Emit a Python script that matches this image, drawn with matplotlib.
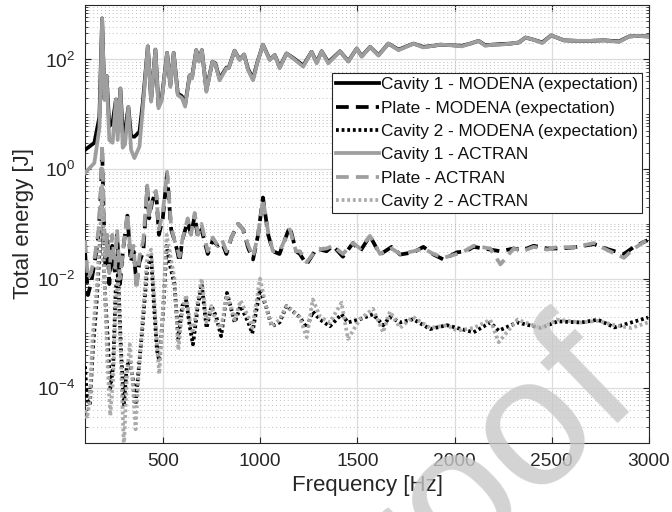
import numpy as np
import matplotlib
matplotlib.use("Agg")
import matplotlib.pyplot as plt
from matplotlib.ticker import LogLocator, FixedLocator, NullFormatter, LogFormatterMathtext

plt.rcParams['font.family'] = ['Liberation Sans', 'DejaVu Sans']
plt.rcParams['mathtext.default'] = 'regular'

# ---------------- data (log10 of total energy in J) ----------------
cav1_freq = [100, 148, 174, 188, 200, 211, 225, 242, 259, 268, 282, 294, 306, 323, 337, 354, 380,
             397, 423, 440, 462, 478, 495, 522, 539, 556, 577, 598, 615, 638, 650, 672, 686, 701,
             724, 755, 770, 792, 827, 839, 869, 895, 918, 938, 964, 987, 1015, 1050, 1076, 1101,
             1136, 1170, 1222, 1265, 1291, 1317, 1351, 1411, 1454, 1497, 1523, 1566, 1609, 1660,
             1712, 1789, 1840, 1892, 1926, 1987, 2038, 2081, 2124, 2158, 2193, 2236, 2287, 2330,
             2365, 2408, 2451, 2497, 2562, 2631, 2700, 2768, 2846, 2897, 2940, 3000]
cav1_actran_log = [-0.07, 0.11, 0.75, 2.75, 1.26, 1.70, 0.53, 0.48, 1.27, 0.53, 1.47, 0.39, 0.45,
                   1.13, 0.35, 0.20, 0.41, 1.10, 2.24, 1.23, 2.18, 1.11, 1.26, 2.12, 1.50, 2.12,
                   1.35, 1.30, 1.14, 1.71, 1.65, 2.17, 1.96, 2.17, 1.41, 1.96, 1.92, 1.62, 1.84,
                   1.84, 2.16, 1.99, 2.09, 1.81, 1.62, 1.95, 2.27, 1.99, 2.08, 1.84, 2.11, 2.02,
                   1.87, 2.14, 1.93, 2.15, 1.93, 2.15, 1.96, 2.20, 2.05, 2.23, 2.07, 2.29, 2.17,
                   2.29, 2.22, 2.25, 2.27, 2.26, 2.24, 2.29, 2.34, 2.25, 2.27, 2.27, 2.29, 2.31,
                   2.40, 2.36, 2.30, 2.44, 2.35, 2.34, 2.34, 2.35, 2.32, 2.42, 2.43, 2.42]
cav1_modena_log = [0.35, 0.48, 0.95, 2.75, 1.28, 1.70, 0.78, 0.85, 1.27, 0.75, 1.47, 0.66, 0.70,
                   1.13, 0.60, 0.59, 0.68, 1.20, 2.24, 1.26, 2.18, 1.15, 1.30, 2.12, 1.53, 2.12,
                   1.38, 1.33, 1.18, 1.71, 1.67, 2.17, 1.98, 2.17, 1.44, 1.96, 1.93, 1.65, 1.85,
                   1.85, 2.16, 2.00, 2.09, 1.83, 1.65, 1.96, 2.27, 2.00, 2.08, 1.86, 2.11, 2.03,
                   1.89, 2.14, 1.95, 2.15, 1.95, 2.15, 1.97, 2.20, 2.06, 2.23, 2.08, 2.29, 2.18,
                   2.29, 2.23, 2.25, 2.27, 2.26, 2.25, 2.29, 2.34, 2.26, 2.27, 2.28, 2.29, 2.31,
                   2.40, 2.36, 2.31, 2.44, 2.35, 2.34, 2.34, 2.35, 2.33, 2.42, 2.43, 2.42]

plate_freq = [100, 115, 130, 150, 170, 183, 188, 195, 205, 215, 225, 240, 255, 265, 280, 295, 318,
              335, 350, 365, 380, 400, 420, 430, 445, 465, 480, 500, 522, 543, 560, 575, 586, 600,
              628, 645, 664, 681, 699, 731, 757, 783, 805, 827, 853, 887, 913, 940, 964, 990,
              1015, 1042, 1066, 1100, 1153, 1185, 1205, 1239, 1291, 1342, 1375, 1426, 1478, 1515,
              1565, 1617, 1677, 1720, 1789, 1840, 1892, 1943, 2012, 2060, 2098, 2184, 2236, 2304,
              2350, 2407, 2476, 2528, 2614, 2717, 2786, 2871, 2923, 2992]
plate_actran_log = [-1.3, -2.0, -1.9, -1.6, -1.1, -0.3, 0.45, -0.6, -1.6, -1.2, -1.9, -1.2, -1.8,
                    -1.1, -2.0, -1.5, -0.8, -1.6, -1.4, -2.2, -1.6, -1.3, -0.3, -0.9, -0.5, -0.4,
                    -1.1, -0.8, -0.05, -1.05, -1.3, -1.45, -1.6, -1.3, -0.9, -1.2, -0.8, -1.2,
                    -1.0, -1.5, -1.25, -1.4, -1.3, -1.5, -1.25, -1.0, -1.1, -1.4, -1.6, -1.2,
                    -0.55, -1.15, -1.5, -1.5, -1.1, -1.5, -1.5, -1.7, -1.47, -1.45, -1.4, -1.55,
                    -1.35, -1.45, -1.22, -1.55, -1.45, -1.55, -1.5, -1.45, -1.55, -1.62, -1.55,
                    -1.48, -1.4, -1.45, -1.74, -1.45, -1.5, -1.42, -1.47, -1.42, -1.43, -1.35,
                    -1.48, -1.62, -1.45, -1.29]
plate_modena_log = [-1.5, -2.3, -2.1, -1.7, -1.2, -0.3, 0.4, -0.7, -1.8, -1.3, -2.1, -1.4, -1.9,
                    -1.2, -2.1, -1.5, -0.85, -1.7, -1.5, -2.1, -1.7, -1.5, -0.35, -0.9, -0.6,
                    -0.4, -1.2, -0.9, -0.08, -1.1, -1.3, -1.5, -1.7, -1.3, -0.95, -1.2, -0.85,
                    -1.25, -1.1, -1.55, -1.3, -1.4, -1.35, -1.55, -1.25, -1.0, -1.1, -1.45,
                    -1.65, -1.2, -0.52, -1.2, -1.5, -1.55, -1.05, -1.5, -1.55, -1.74, -1.45,
                    -1.5, -1.4, -1.6, -1.35, -1.5, -1.22, -1.56, -1.42, -1.56, -1.52, -1.42,
                    -1.56, -1.65, -1.52, -1.5, -1.42, -1.47, -1.5, -1.45, -1.48, -1.4, -1.45,
                    -1.45, -1.43, -1.37, -1.46, -1.55, -1.42, -1.3]

cav2_freq = [100, 110, 125, 140, 160, 175, 183, 188, 195, 205, 215, 230, 245, 258, 270, 285, 300,
             315, 330, 345, 360, 375, 395, 420, 440, 455, 470, 482, 500, 520, 540, 560, 580, 600,
             620, 640, 655, 680, 700, 725, 750, 775, 800, 830, 870, 900, 940, 960, 1000, 1030,
             1060, 1100, 1136, 1204, 1240, 1271, 1310, 1359, 1419, 1452, 1514, 1581, 1633, 1668,
             1720, 1787, 1875, 1961, 2013, 2098, 2184, 2227, 2323, 2444, 2530, 2651, 2737, 2823,
             2909, 2995]
cav2_actran_log = [-4.4, -4.55, -4.2, -3.0, -2.2, -1.3, -0.8, -0.3, -1.5, -2.5, -3.5, -4.5, -3.8,
                   -2.4, -2.0, -3.5, -5.1, -3.8, -3.2, -3.9, -4.75, -3.8, -2.8, -1.6, -1.47,
                   -2.3, -3.2, -3.74, -2.6, -1.2, -1.6, -2.0, -3.3, -2.6, -2.3, -2.8, -3.0, -2.4,
                   -2.0, -2.8, -2.5, -2.8, -2.9, -2.3, -2.75, -2.4, -2.7, -2.9, -2.0, -2.5,
                   -2.87, -2.75, -2.5, -2.7, -3.07, -2.38, -2.7, -2.8, -2.44, -3.1, -2.74, -2.55,
                   -2.98, -2.6, -2.9, -2.7, -2.9, -2.85, -2.95, -2.9, -2.75, -3.16, -2.75, -2.9,
                   -2.75, -2.8, -2.77, -2.85, -2.9, -2.8]
cav2_modena_log = [-3.6, -4.2, -4.3, -3.3, -2.4, -1.5, -0.9, -0.35, -1.6, -2.4, -3.0, -4.0, -3.6,
                   -2.2, -1.9, -3.3, -4.3, -3.6, -3.5, -3.8, -4.3, -3.7, -2.9, -1.8, -1.6, -2.5,
                   -3.3, -3.5, -2.7, -1.4, -1.8, -2.1, -3.1, -2.5, -2.4, -2.9, -3.2, -2.5, -2.1,
                   -2.9, -2.5, -2.7, -3.05, -2.26, -2.8, -2.5, -2.8, -3.0, -2.2, -2.5, -2.87,
                   -2.8, -2.5, -2.7, -2.9, -2.6, -2.75, -2.87, -2.65, -2.8, -2.74, -2.65, -2.85,
                   -2.7, -2.8, -2.74, -2.92, -2.85, -2.9, -2.98, -2.8, -2.95, -2.8, -2.9, -2.78,
                   -2.8, -2.75, -2.89, -2.8, -2.71]

labels = ["Cavity 1 - MODENA (expectation)", "Plate - MODENA (expectation)",
          "Cavity 2 - MODENA (expectation)", "Cavity 1 - ACTRAN", "Plate - ACTRAN",
          "Cavity 2 - ACTRAN"]
xticks = [500, 1000, 1500, 2000, 2500, 3000]
yticks = [1e-4, 1e-2, 1e0, 1e2]

# ---------------- figure ----------------
fig = plt.figure(figsize=(6.72, 5.12), dpi=100)
ax = fig.add_axes([85/672, 1-443/512, 564/672, 438.3/512])

black = '#000000'
gray = '#9e9e9e'
gray2 = '#ababab'
lw = 2.7

ax.plot(cav1_freq, np.power(10.0, cav1_modena_log), color=black, lw=lw, ls='-', label=labels[0], zorder=3)
ax.plot(plate_freq, np.power(10.0, plate_modena_log), color=black, lw=lw, ls=(0, (3.4, 1.9)), label=labels[1], zorder=3)
ax.plot(cav2_freq, np.power(10.0, cav2_modena_log), color=black, lw=lw, ls=(0, (0.75, 0.75)), label=labels[2], zorder=3)
ax.plot(cav1_freq, np.power(10.0, cav1_actran_log), color=gray, lw=lw, ls='-', label=labels[3], zorder=3)
ax.plot(plate_freq, np.power(10.0, plate_actran_log), color=gray, lw=lw, ls=(0, (3.4, 1.9)), label=labels[4], zorder=3)
ax.plot(cav2_freq, np.power(10.0, cav2_actran_log), color=gray2, lw=lw, ls=(0, (0.75, 0.75)), label=labels[5], zorder=3)

ax.set_yscale('log')
ax.set_xlim(100, 3000)
ax.set_ylim(1e-5, 1e3)
ax.xaxis.set_major_locator(FixedLocator(xticks))
ax.yaxis.set_major_locator(FixedLocator(yticks))
ax.yaxis.set_major_formatter(LogFormatterMathtext())
ax.yaxis.set_minor_locator(LogLocator(base=10, subs=tuple(range(1, 10)), numticks=50))
ax.yaxis.set_minor_formatter(NullFormatter())

ax.grid(True, which='major', axis='both', color='#dddddd', lw=0.9, ls='-', zorder=0)
ax.grid(True, which='minor', axis='y', color='#bdbdbd', lw=0.7, ls=(0, (1, 3)), zorder=0)
ax.set_axisbelow(True)

tc = '#262626'
ax.tick_params(which='major', direction='in', length=4.5, width=0.8, top=True, right=True,
               labelsize=13.8, colors=tc, pad=7)
ax.tick_params(which='minor', direction='in', length=2.5, width=0.6, top=False, right=True,
               colors=tc)
for s in ax.spines.values():
    s.set_color(tc)
    s.set_linewidth(0.8)

ax.set_xlabel('Frequency [Hz]', fontsize=16, color=tc, labelpad=4)
ax.set_ylabel('Total energy [J]', fontsize=16, color=tc, labelpad=2)

leg = ax.legend(loc='upper left', bbox_to_anchor=((332-85)/564, 1-(73-4.7)/438.3),
                fontsize=12.4, frameon=True, fancybox=False, edgecolor='#262626',
                framealpha=1.0, borderaxespad=0, borderpad=0.25, labelspacing=0.48,
                handlelength=2.45, handletextpad=0.12)
leg.get_frame().set_linewidth(0.8)
for t in leg.get_texts():
    t.set_color('#111111')

# watermark
fig.text(643/672, 1-398/512, 'Journal Pre-proof', fontsize=132, color='#c8c8c8', alpha=0.8,
         rotation=44, ha='right', va='baseline', rotation_mode='anchor', zorder=10)

fig.savefig('out.png', dpi=100)
